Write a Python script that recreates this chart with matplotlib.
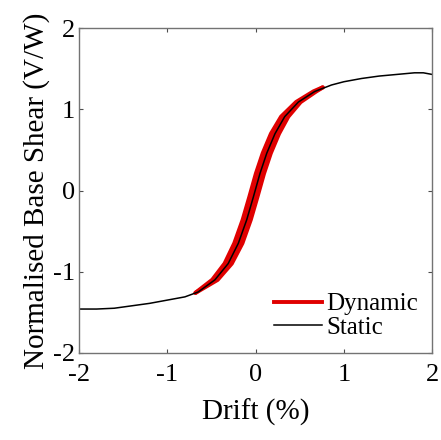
import matplotlib
matplotlib.use("Agg")
import matplotlib.pyplot as plt

# static pushover curve (drift %, V/W)
static_x = [-2.0, -1.8, -1.6, -1.4, -1.2, -1.0, -0.8, -0.65, -0.46, -0.31,
            -0.195, -0.10, -0.025, 0.05, 0.127, 0.22, 0.33, 0.485, 0.67, 0.86,
            1.0, 1.2, 1.4, 1.6, 1.8, 1.9, 2.0]
static_y = [-1.46, -1.46, -1.45, -1.42, -1.39, -1.35, -1.31, -1.25, -1.10, -0.90,
            -0.65, -0.36, -0.08, 0.21, 0.46, 0.70, 0.91, 1.09, 1.22, 1.30,
            1.34, 1.38, 1.41, 1.43, 1.45, 1.45, 1.43]

# dynamic response envelope (left / right branch of the loops)
dyn_y = [-1.26, -1.10, -0.90, -0.65, -0.36, -0.08, 0.21, 0.46, 0.70, 0.91,
         1.09, 1.22, 1.27]
dyn_left_x = [-0.68, -0.49, -0.35, -0.24, -0.145, -0.07, 0.005, 0.082, 0.175,
              0.29, 0.46, 0.655, 0.76]
dyn_right_x = [-0.68, -0.43, -0.27, -0.15, -0.055, 0.02, 0.095, 0.172, 0.265,
               0.37, 0.51, 0.685, 0.76]

ticks = [-2, -1, 0, 1, 2]

plt.rcParams["font.family"] = ["Liberation Serif", "DejaVu Serif"]
plt.rcParams["axes.unicode_minus"] = False

fig = plt.figure(figsize=(4.41, 4.40), dpi=100)
ax = fig.add_axes([0.179, 0.198, 0.801, 0.738])

red = "#e00000"
ax.fill_betweenx(dyn_y, dyn_left_x, dyn_right_x, color=red, lw=0)
for bx in (dyn_left_x, dyn_right_x):
    ax.plot(bx, dyn_y, color=red, lw=3.0, solid_capstyle="round",
            solid_joinstyle="round")
ax.plot(static_x, static_y, color="black", lw=1.1, solid_joinstyle="round")

# legend handles
ax.plot([], [], color=red, lw=2.8, label="Dynamic")
ax.plot([], [], color="black", lw=1.1, label="Static")
handles, labels = ax.get_legend_handles_labels()
ax.legend(handles, labels, loc="lower right", frameon=False, fontsize=18,
          handlelength=1.9, handletextpad=0.2, labelspacing=0.05,
          borderaxespad=0.25, borderpad=0.3)

ax.set_xlim(-2, 2)
ax.set_ylim(-2, 2)
ax.set_xticks(ticks)
ax.set_yticks(ticks)
ax.tick_params(direction="in", length=3, width=0.8, color="0.3",
               top=True, right=True, labelsize=19)
ax.tick_params(axis="x", pad=8)
ax.tick_params(axis="y", pad=3)
for s in ax.spines.values():
    s.set_color("0.45")
    s.set_linewidth(1.0)

ax.set_xlabel("Drift (%)", fontsize=21, labelpad=9)
ax.set_ylabel("Normalised Base Shear (V/W)", fontsize=21, labelpad=2)

fig.savefig("out.png", dpi=100)
